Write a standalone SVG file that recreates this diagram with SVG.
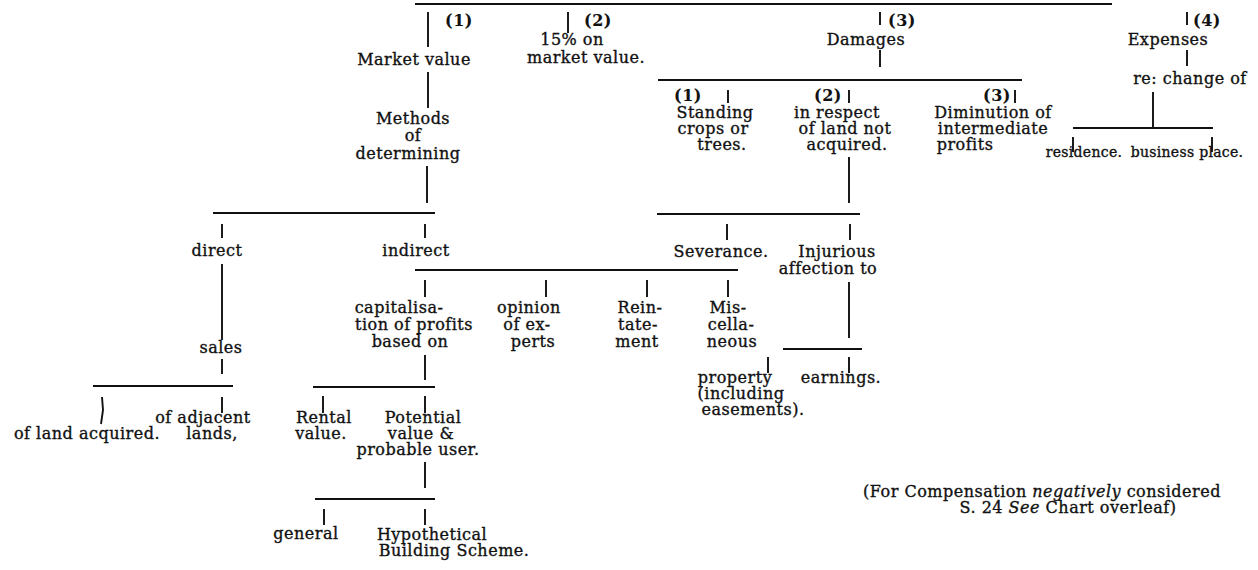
<svg xmlns="http://www.w3.org/2000/svg" width="1258" height="570" viewBox="0 0 1258 570">
<style>
text { font-family: "DejaVu Serif", "Liberation Serif", serif; font-size: 16px; letter-spacing: 0.5px; fill: #111; stroke: #111; stroke-width: 0.35; text-anchor: middle; }
.b { font-weight: bold; stroke-width: 0.1; }
.i { font-style: italic; }
.s { font-size: 14px; letter-spacing: 0.3px; }
#connectors path { stroke: #111; stroke-width: 1.9; fill: none; }
</style>
<rect width="1258" height="570" fill="#fff"/>
<g id="connectors">
<path d="M415,4 H1112"/>
<path d="M428,12 V47 M428,72 V108 M427,166 V203 M213,213 H435 M222,224 V238 M425,224 V238"/>
<path d="M222,264 V340 M222,359 V374 M93,386 H233 M102,397 L103,410 L101,424 M222,397 V413"/>
<path d="M415,270 H738 M425,280 V297 M546,280 V297 M647,280 V297 M728,280 V297"/>
<path d="M425,355 V380 M313,387 H435 M323,396 V413 M425,396 V413"/>
<path d="M425,462 V488 M315,499 H435 M324,509 V525 M425,509 V525"/>
<path d="M568,12 V33"/>
<path d="M880,12 V25 M880,50 V67 M658,80 H1022 M728,90 V103 M849,90 V103 M1015,90 V103"/>
<path d="M849,157 V203 M657,214 H860 M727,224 V240 M850,224 V240"/>
<path d="M849,282 V338 M783,349 H862 M768,357 V373 M849,357 V373"/>
<path d="M1187,12 V25 M1187,50 V66 M1153,92 V127 M1073,128 H1213 M1073,137 V152 M1212,137 V152"/>
</g>
<g id="n-market-value"><text class="b" x="459" y="26">(1)</text><text x="414" y="65">Market value</text></g>
<g id="n-methods"><text x="413" y="124">Methods</text><text x="413" y="141">of</text><text x="408" y="159">determining</text></g>
<g id="n-direct"><text x="217" y="256">direct</text></g>
<g id="n-indirect"><text x="416" y="256">indirect</text></g>
<g id="n-sales"><text x="221" y="353">sales</text></g>
<g id="n-land-acquired"><text x="87" y="439">of land acquired.</text></g>
<g id="n-adjacent"><text x="203" y="423">of adjacent</text><text x="212" y="439">lands,</text></g>
<g id="n-capitalisation"><text x="399" y="313">capitalisa-</text><text x="414" y="330">tion of profits</text><text x="410" y="347">based on</text></g>
<g id="n-opinion"><text x="529" y="313">opinion</text><text x="527" y="330">of ex-</text><text x="533" y="347">perts</text></g>
<g id="n-reinstatement"><text x="640" y="313">Rein-</text><text x="638" y="330">tate-</text><text x="637" y="347">ment</text></g>
<g id="n-miscellaneous"><text x="728" y="313">Mis-</text><text x="731" y="330">cella-</text><text x="732" y="347">neous</text></g>
<g id="n-rental"><text x="324" y="423">Rental</text><text x="321" y="439">value.</text></g>
<g id="n-potential"><text x="423" y="423">Potential</text><text x="421" y="439">value &amp;</text><text x="418" y="455">probable user.</text></g>
<g id="n-general"><text x="306" y="539">general</text></g>
<g id="n-hypothetical"><text x="432" y="540">Hypothetical</text><text x="454" y="556">Building Scheme.</text></g>
<g id="n-fifteen"><text class="b" x="598" y="26">(2)</text><text x="572" y="45">15% on</text><text x="586" y="63">market value.</text></g>
<g id="n-damages"><text class="b" x="902" y="26">(3)</text><text x="866" y="45">Damages</text></g>
<g id="n-standing"><text class="b" x="688" y="101">(1)</text><text x="715" y="118">Standing</text><text x="713" y="134">crops or</text><text x="722" y="150">trees.</text></g>
<g id="n-respect"><text class="b" x="828" y="101">(2)</text><text x="837" y="118">in respect</text><text x="845" y="134">of land not</text><text x="847" y="150">acquired.</text></g>
<g id="n-diminution"><text class="b" x="997" y="101">(3)</text><text x="993" y="118">Diminution of</text><text x="993" y="134">intermediate</text><text x="965" y="150">profits</text></g>
<g id="n-severance"><text x="721" y="257">Severance.</text></g>
<g id="n-injurious"><text x="837" y="257">Injurious</text><text x="828" y="274">affection to</text></g>
<g id="n-property"><text x="735" y="383">property</text><text x="741" y="399">(including</text><text x="753" y="415">easements).</text></g>
<g id="n-earnings"><text x="841" y="383">earnings.</text></g>
<g id="n-expenses"><text class="b" x="1207" y="26">(4)</text><text x="1168" y="45">Expenses</text><text x="1190" y="84">re: change of</text></g>
<g id="n-residence"><text class="s" x="1084" y="157">residence.</text></g>
<g id="n-business"><text class="s" x="1187" y="157">business place.</text></g>
<g id="note"><text x="1042" y="497">(For Compensation <tspan class="i">negatively</tspan> considered</text><text x="1068" y="513">S. 24 <tspan class="i">See</tspan> Chart overleaf)</text></g>
</svg>
